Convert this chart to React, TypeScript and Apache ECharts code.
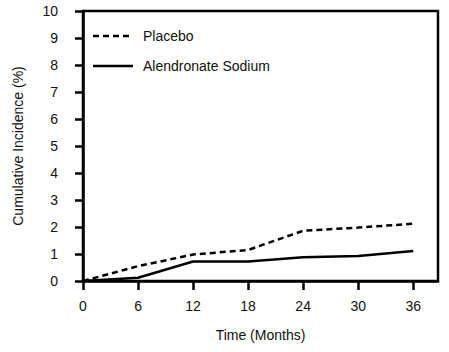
import React, { useEffect, useRef } from "react";
import * as echarts from "echarts";

const months = [0, 6, 12, 18, 24, 30, 36];
const placebo = [0, 0.55, 0.98, 1.15, 1.86, 1.98, 2.12];
const alendronate = [0, 0.12, 0.72, 0.72, 0.88, 0.93, 1.11];
const xTicks = [0, 6, 12, 18, 24, 30, 36];
const seriesNames = ["Placebo", "Alendronate Sodium"];

const FONT = "'Liberation Sans Narrow', 'Arial Narrow', 'Liberation Sans', Arial, sans-serif";

export default function App() {
  const ref = useRef<HTMLDivElement>(null);
  useEffect(() => {
    const chart = echarts.init(ref.current!, null, { renderer: "svg" });
    const legendItems: any[] = [];
    seriesNames.forEach((name, i) => {
      const y = 36 + i * 30;
      legendItems.push({
        type: "line",
        shape: { x1: 93, y1: y, x2: 133, y2: y },
        style: { stroke: "#000", lineWidth: 2.5, lineDash: i === 0 ? [6, 4] : null },
      });
      legendItems.push({
        type: "text",
        x: 143,
        y,
        style: { text: name, fontFamily: FONT, fontSize: 14, fill: "#111", verticalAlign: "middle", align: "left" },
      });
    });
    chart.setOption({
      animation: false,
      backgroundColor: "#fff",
      textStyle: { fontFamily: FONT, color: "#111" },
      grid: {
        left: 83, right: 11, top: 11, bottom: 71,
        outerBoundsMode: "none", containLabel: false,
        show: true, borderColor: "#000", borderWidth: 2.5,
      },
      graphic: legendItems,
      xAxis: {
        type: "value",
        min: 0,
        max: 38.7,
        name: "Time (Months)",
        nameLocation: "middle",
        nameGap: 47,
        nameTextStyle: { fontFamily: FONT, fontSize: 14, color: "#111" },
        axisLine: { show: true, lineStyle: { color: "#000", width: 2.5 } },
        axisTick: { show: true, length: 9, lineStyle: { color: "#000", width: 2.5 }, customValues: xTicks },
        axisLabel: { customValues: xTicks, fontSize: 14, color: "#111", margin: 18, fontFamily: FONT },
        splitLine: { show: false },
      },
      yAxis: {
        type: "value",
        min: 0,
        max: 10,
        interval: 1,
        name: "Cumulative Incidence (%)",
        nameLocation: "middle",
        nameGap: 58,
        nameTextStyle: { fontFamily: FONT, fontSize: 14, color: "#111" },
        axisLine: { show: true, lineStyle: { color: "#000", width: 2.5 } },
        axisTick: { show: true, length: 8, lineStyle: { color: "#000", width: 2.5 } },
        axisLabel: { fontSize: 14, color: "#111", margin: 25, fontFamily: FONT },
        splitLine: { show: false },
      },
      series: [
        {
          name: seriesNames[0],
          type: "line",
          symbol: "none",
          data: months.map((m, i) => [m, placebo[i]]),
          lineStyle: { color: "#000", width: 2.5, type: [6, 4] },
          itemStyle: { color: "#000" },
        },
        {
          name: seriesNames[1],
          type: "line",
          symbol: "none",
          data: months.map((m, i) => [m, alendronate[i]]),
          lineStyle: { color: "#000", width: 2.5 },
          itemStyle: { color: "#000" },
        },
      ],
    });
    return () => chart.dispose();
  }, []);
  return <div ref={ref} style={{ width: 449, height: 352, position: "absolute", left: 0, top: 0 }} />;
}
